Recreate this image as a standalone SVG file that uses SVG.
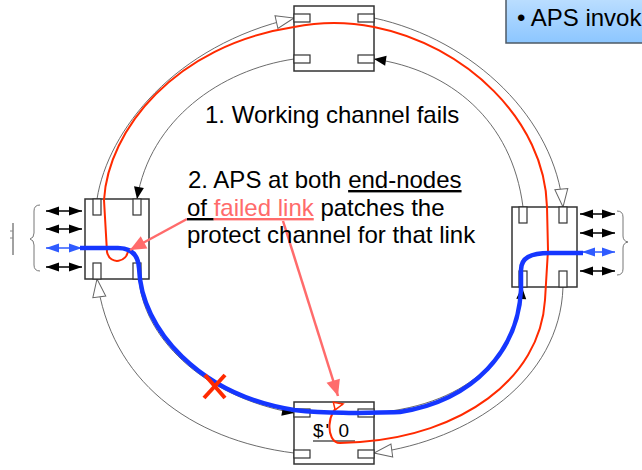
<svg xmlns="http://www.w3.org/2000/svg" width="642" height="470" viewBox="0 0 642 470">
<defs>
<linearGradient id="boxg" x1="0" y1="0" x2="0" y2="1">
<stop offset="0" stop-color="#bfe0ff"/><stop offset="1" stop-color="#8cc6ff"/>
</linearGradient>
<marker id="hollow" markerUnits="userSpaceOnUse" markerWidth="22" markerHeight="16" refX="18" refY="6.5" orient="auto" overflow="visible">
<path d="M0,0 L18,6.5 L0,13 z" fill="#fff" stroke="#666" stroke-width="1"/>
</marker>
<marker id="solid" markerUnits="userSpaceOnUse" markerWidth="14" markerHeight="12" refX="12" refY="5" orient="auto" overflow="visible">
<path d="M0,0 L12,5 L0,10 z" fill="#000"/>
</marker>
<marker id="dbl" markerUnits="userSpaceOnUse" markerWidth="14" markerHeight="10" refX="13" refY="4.5" orient="auto-start-reverse" overflow="visible">
<path d="M0,0 L13,4.5 L0,9 z" fill="#000"/>
</marker>
<marker id="dblb" markerUnits="userSpaceOnUse" markerWidth="14" markerHeight="10" refX="13" refY="4.5" orient="auto-start-reverse" overflow="visible">
<path d="M0,0 L13,4.5 L0,9 z" fill="#2f5bff"/>
</marker>
<marker id="salm" markerUnits="userSpaceOnUse" markerWidth="18" markerHeight="15" refX="16" refY="7" orient="auto" overflow="visible">
<path d="M0,0 L16,7 L0,14 z" fill="#ff6b6b"/>
</marker>
<marker id="redh" markerUnits="userSpaceOnUse" markerWidth="12" markerHeight="10" refX="9" refY="4" orient="auto" overflow="visible">
<path d="M0,0 L9,4 L0,8 z" fill="#fff" stroke="#ff2a00" stroke-width="1.5"/>
</marker>
</defs>
<style>
.ring{fill:none;stroke:#5a5a5a;stroke-width:0.9}
.node{fill:#fff;stroke:#333;stroke-width:1.5}
.port{fill:#fff;stroke:#333;stroke-width:1.2}
.tx{font-family:"Liberation Sans",Arial,sans-serif;font-size:24px;fill:#000}
.da{stroke:#000;stroke-width:1.5;fill:none;marker-start:url(#dbl);marker-end:url(#dbl)}
.db{stroke:#2f5bff;stroke-width:1.5;fill:none;marker-start:url(#dblb);marker-end:url(#dblb)}
.brace{fill:none;stroke:#777;stroke-width:1}
</style>

<!-- info box -->
<g id="infobox">
<rect x="506" y="-5" width="150" height="48" fill="url(#boxg)" stroke="#4d5a66" stroke-width="1.5"/>
<text class="tx" x="517" y="26">• APS invok</text>
</g>

<!-- ring connectors -->
<g id="connectors">
<path class="ring" d="M97,199 C108,130 175,45 294,18" marker-end="url(#hollow)"/>
<path class="ring" d="M374,18 C475,40 555,120 563,207" marker-end="url(#hollow)"/>
<path class="ring" d="M563,287 C560,380 470,440 374,453" marker-end="url(#hollow)"/>
<path class="ring" d="M294,453 C190,440 110,380 97,279" marker-end="url(#hollow)"/>
<path class="ring" d="M294,59 C220,70 150,120 137,199" marker-end="url(#solid)"/>
<path class="ring" d="M523,207 C512,120 450,70 374,59" marker-end="url(#solid)"/>
<path class="ring" d="M374,413 C475,404 518,350 522,287" marker-end="url(#solid)"/>
<path class="ring" d="M139,279 C143,335 200,396 294,413" marker-end="url(#solid)"/>
</g>

<!-- nodes -->
<g id="node-top">
<rect class="node" x="294" y="6" width="80" height="65"/>
<rect class="port" x="294" y="14" width="16" height="8"/>
<rect class="port" x="358" y="14" width="16" height="8"/>
<rect class="port" x="294" y="55" width="16" height="8"/>
<rect class="port" x="358" y="55" width="16" height="8"/>
</g>
<g id="node-left">
<rect class="node" x="85" y="199" width="64" height="80"/>
<rect class="port" x="93" y="199" width="8" height="16"/>
<rect class="port" x="133" y="199" width="8" height="16"/>
<rect class="port" x="93" y="263" width="8" height="16"/>
<rect class="port" x="133" y="263" width="8" height="16"/>
<line class="da" x1="46" y1="211" x2="82" y2="211"/>
<line class="da" x1="46" y1="229" x2="82" y2="229"/>
<line class="db" x1="46" y1="248" x2="82" y2="248"/>
<line class="da" x1="46" y1="267" x2="82" y2="267"/>
<path class="brace" d="M40,205 Q34,205 34,211 L34,233 Q34,238 30,239 Q34,240 34,245 L34,265 Q34,271 40,271"/>
<line x1="13" y1="223" x2="13" y2="255" stroke="#444" stroke-width="1"/>
<line x1="10" y1="231" x2="13" y2="231" stroke="#888" stroke-width="1"/>
<line x1="10" y1="238" x2="13" y2="238" stroke="#888" stroke-width="1"/>
</g>
<g id="node-right">
<rect class="node" x="512" y="207" width="65" height="80"/>
<rect class="port" x="519" y="207" width="8" height="16"/>
<rect class="port" x="559" y="207" width="8" height="16"/>
<rect class="port" x="519" y="271" width="8" height="16"/>
<rect class="port" x="559" y="271" width="8" height="16"/>
<line class="da" x1="580" y1="214" x2="615" y2="214"/>
<line class="da" x1="580" y1="233" x2="615" y2="233"/>
<line class="db" x1="582" y1="252" x2="615" y2="252"/>
<line class="da" x1="580" y1="271" x2="615" y2="271"/>
<path class="brace" d="M617,211 Q623,211 623,217 L623,236 Q623,241 628,242 Q623,243 623,248 L623,269 Q623,275 617,275"/>
</g>
<g id="node-bottom">
<rect class="node" x="294" y="402" width="80" height="62"/>
<rect class="port" x="294" y="409" width="16" height="8"/>
<rect class="port" x="358" y="409" width="16" height="8"/>
<rect class="port" x="294" y="450" width="16" height="8"/>
<rect class="port" x="358" y="450" width="16" height="8"/>
<text x="313" y="437" font-family="'Liberation Sans',Arial,sans-serif" font-size="19" letter-spacing="2" fill="#000">$' 0</text>
<line x1="313" y1="441" x2="355" y2="441" stroke="#000" stroke-width="1.2"/>
</g>

<!-- channels -->
<g id="channels">
<path d="M128,250 C128,262 110,266 107,252 L104,200 C108,130 175,45 294,27 Q334,19 374,27 C465,45 545,120 547,207 L548,250 L545,300 C540,380 460,435 360,442 L340,443 C325,443 326,408 343,404" fill="none" stroke="#ff2a00" stroke-width="2" marker-end="url(#redh)"/>
<path d="M80,248 L118,248 C130,248 138,254 139,268 C141,330 200,395 294,410 C330,414 360,413 400,412 C475,400 518,350 521,290 L521,270 C521,258 530,253 550,253 L583,253" fill="none" stroke="#1536ff" stroke-width="4.5" stroke-linejoin="round"/>
</g>

<!-- failure mark -->
<g id="failure">
<line x1="205" y1="375" x2="225" y2="398" stroke="#ff2a00" stroke-width="4"/>
<line x1="225" y1="375" x2="204" y2="398" stroke="#ff2a00" stroke-width="4"/>
</g>

<!-- annotation arrows -->
<g id="annotations">
<line x1="187" y1="219" x2="130" y2="250" stroke="#ff6b6b" stroke-width="2.5" marker-end="url(#salm)"/>
<line x1="283" y1="221" x2="338" y2="396" stroke="#ff6b6b" stroke-width="2.5" marker-end="url(#salm)"/>
</g>

<!-- labels -->
<g id="label1">
<text class="tx" x="205" y="123">1. Working channel fails</text>
</g>
<g id="label2">
<text class="tx" x="188" y="188">2. APS at both <tspan text-decoration="underline">end-nodes</tspan></text>
<text class="tx" x="187" y="216"><tspan text-decoration="underline" xml:space="preserve">of </tspan><tspan fill="#ff6b6b" text-decoration="underline">failed link</tspan> patches the</text>
<text class="tx" x="187" y="243">protect channel for that link</text>
</g>
</svg>
